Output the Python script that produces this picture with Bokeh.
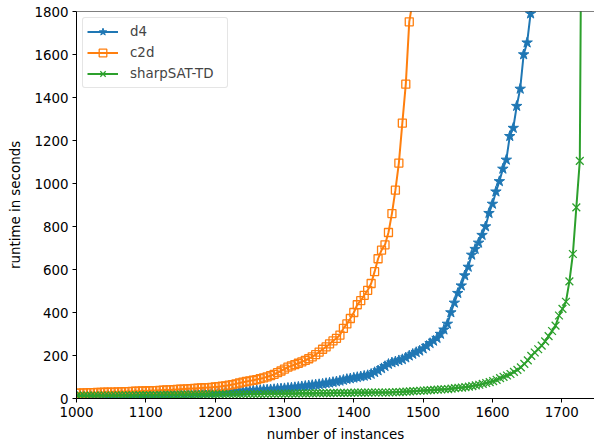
from bokeh.plotting import figure
from bokeh.models import Range1d, Span, Legend, LegendItem, FixedTicker
from bokeh.embed import file_html
from bokeh.resources import INLINE

# ---- data: number of solved instances vs runtime (s) ----
d4_x = list(range(1000, 1665, 5))
d4_y = [12, 12, 12, 13, 13, 13, 13, 14, 14, 14,
        15, 15, 15, 16, 16, 16, 17, 17, 17, 18,
        18, 18, 19, 19, 20, 20, 21, 21, 22, 22,
        23, 23, 24, 24, 25, 25, 26, 27, 27, 28,
        28, 29, 30, 30, 31, 32, 33, 33, 34, 35,
        36, 37, 38, 39, 40, 41, 42, 43, 45, 46,
        47, 49, 50, 52, 54, 56, 58, 60, 62, 64,
        66, 68, 71, 73, 76, 79, 82, 86, 90, 93,
        96, 99, 102, 105, 108, 114, 122, 130, 140, 150,
        160, 167, 172, 177, 182, 190, 199, 207, 215, 222,
        232, 244, 257, 268, 281, 300, 320, 347, 400, 445,
        490, 525, 572, 612, 668, 695, 724, 760, 800, 862,
        905, 962, 1010, 1068, 1110, 1220, 1258, 1360, 1440, 1600,
        1655, 1790, 1900]

c2d_x = list(range(1000, 1490, 5))
c2d_y = [25, 25, 26, 26, 27, 27, 28, 28, 29, 29,
         30, 30, 31, 31, 32, 32, 33, 34, 34, 35,
         35, 36, 37, 37, 38, 39, 40, 40, 41, 42,
         43, 44, 45, 46, 47, 48, 49, 50, 51, 52,
         54, 55, 57, 59, 62, 65, 68, 72, 76, 79,
         82, 85, 88, 92, 96, 101, 106, 112, 120, 128,
         137, 146, 152, 158, 164, 170, 177, 185, 194, 204,
         216, 229, 240, 254, 268, 280, 295, 326, 347, 372,
         400, 436, 455, 480, 503, 535, 590, 650, 690, 715,
         772, 860, 969, 1095, 1281, 1462, 1752, 1850]

sat_x = list(range(1001, 1736, 5))
sat_y = [13, 13, 13, 13, 13, 13, 14, 14, 14, 14,
         14, 14, 15, 15, 15, 15, 15, 15, 16, 16,
         16, 16, 16, 16, 17, 17, 17, 17, 17, 17,
         18, 18, 18, 18, 18, 18, 19, 19, 19, 19,
         19, 19, 20, 20, 20, 20, 20, 20, 21, 21,
         21, 21, 21, 21, 22, 22, 22, 22, 22, 22,
         23, 23, 23, 23, 24, 24, 24, 24, 24, 25,
         25, 25, 25, 25, 26, 26, 26, 26, 26, 26,
         27, 27, 27, 27, 27, 28, 28, 28, 28, 28,
         28, 29, 30, 30, 31, 32, 33, 34, 35, 36,
         37, 38, 39, 40, 41, 42, 43, 44, 46, 48,
         50, 51, 53, 55, 58, 61, 64, 68, 72, 76,
         81, 87, 95, 101, 107, 114, 124, 133, 145, 161,
         177, 198, 214, 229, 246, 266, 290, 314, 339, 386,
         417, 450, 545, 672, 889, 1105, 3700]

x_ticks = [1000, 1100, 1200, 1300, 1400, 1500, 1600, 1700]
y_ticks = [0, 200, 400, 600, 800, 1000, 1200, 1400, 1600, 1800]

BLUE, ORANGE, GREEN = "#1f77b4", "#ff7f0e", "#2ca02c"
FONT = "DejaVu Sans"
FS = "13.4px"

p = figure(width=594, height=444, output_backend="svg", toolbar_location=None,
           x_range=Range1d(1000, 1747.2), y_range=Range1d(0, 1800),
           min_border_left=76, min_border_right=0, min_border_top=11, min_border_bottom=46)
p.outline_line_color = None
p.xgrid.grid_line_color = None
p.ygrid.grid_line_color = None
p.background_fill_color = "white"
p.border_fill_color = "white"

for ax, ticks in ((p.xaxis[0], x_ticks), (p.yaxis[0], y_ticks)):
    ax.ticker = FixedTicker(ticks=ticks)
    ax.axis_line_color = "black"
    ax.axis_line_width = 1
    ax.major_tick_line_color = "black"
    ax.major_tick_out = 4
    ax.major_tick_in = 0
    ax.minor_tick_line_color = None
    ax.major_label_text_font = FONT
    ax.major_label_text_font_size = FS
    ax.major_label_text_color = "black"
    ax.axis_label_text_font = FONT
    ax.axis_label_text_font_size = FS
    ax.axis_label_text_font_style = "normal"
    ax.axis_label_text_color = "black"
    ax.major_label_standoff = 4

p.xaxis.axis_label = "number of instances"
p.yaxis.axis_label = "runtime in seconds"
p.xaxis.axis_label_standoff = 7
p.yaxis.axis_label_standoff = 8

p.add_layout(Span(location=1800, dimension="width", line_color="black", line_width=1))

r1l = p.line(d4_x, d4_y, line_color=BLUE, line_width=2)
r1s = p.scatter(d4_x, d4_y, marker="star", size=11, fill_color=BLUE, line_color=BLUE, line_width=1)
r2l = p.line(c2d_x, c2d_y, line_color=ORANGE, line_width=2)
r2s = p.scatter(c2d_x, c2d_y, marker="square", size=8, fill_color=None, line_color=ORANGE, line_width=1.3)
r3l = p.line(sat_x, sat_y, line_color=GREEN, line_width=2)
r3s = p.scatter(sat_x, sat_y, marker="x", size=11, line_color=GREEN, line_width=1.3)

legend = Legend(items=[
    LegendItem(label="d4", renderers=[r1l, r1s]),
    LegendItem(label="c2d", renderers=[r2l, r2s]),
    LegendItem(label="sharpSAT-TD", renderers=[r3l, r3s]),
], location="top_left")
legend.margin = 6
legend.padding = 4
legend.spacing = 2
legend.label_height = 19
legend.glyph_height = 19
legend.glyph_width = 31
legend.label_standoff = 12
legend.label_width = 93
legend.label_text_font = FONT
legend.label_text_font_size = FS
legend.border_line_color = "#cccccc"
legend.border_line_width = 1
legend.background_fill_alpha = 0.8
legend.border_radius = 3
p.add_layout(legend)

open("out.html", "w").write(file_html(p, INLINE))
